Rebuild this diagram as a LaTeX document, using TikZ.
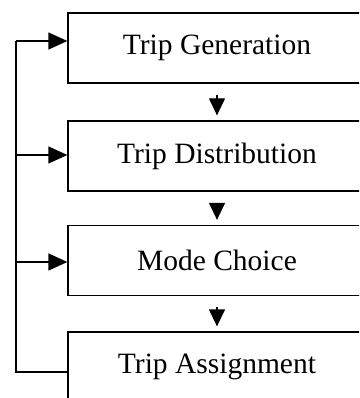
\documentclass[tikz,border=0pt]{standalone}
\usepackage{fontspec}
\setmainfont{Liberation Serif}
\usetikzlibrary{arrows.meta,positioning}

\tikzset{
  stage/.style={draw, rectangle, line width=1.3pt, minimum width=298pt,
    minimum height=70pt, inner sep=0pt, font=\fontsize{29.5}{33}\selectfont},
  flow/.style={line width=1.3pt, -{Triangle[length=17pt,width=16pt]},
    shorten <=11pt, shorten >=5pt},
  feed/.style={line width=1.3pt, -{Triangle[length=19pt,width=17pt]}}
}

\begin{document}
\begin{tikzpicture}[x=1pt, y=-1pt]
  \useasboundingbox (0,0) rectangle (359,398);
  \clip (0,0) rectangle (359,398);

  % The four model stages
  \node[stage] (gen)    at (217,48)  {Trip Generation};
  \node[stage] (dist)   at (217,156) {Trip Distribution};
  \node[stage] (mode)   at (217,260.5) {Mode Choice};
  \node[stage] (assign) at (217,367) {Trip Assignment};

  % Downward flow
  \draw[flow] (gen) -- (dist);
  \draw[flow] (dist) -- (mode);
  \draw[flow] (mode) -- (assign);

  % Feedback loop on the left
  \coordinate (j1) at (16,41);
  \coordinate (j2) at (16,155);
  \coordinate (j3) at (16,262);
  \coordinate (j4) at (16,372);
  \draw[line width=1.3pt] (j1) -- (j4) -- (j4 -| assign.west);
  \draw[feed] (j1) -- (j1 -| gen.west);
  \draw[feed] (j2) -- (j2 -| dist.west);
  \draw[feed] (j3) -- (j3 -| mode.west);
\end{tikzpicture}
\end{document}
